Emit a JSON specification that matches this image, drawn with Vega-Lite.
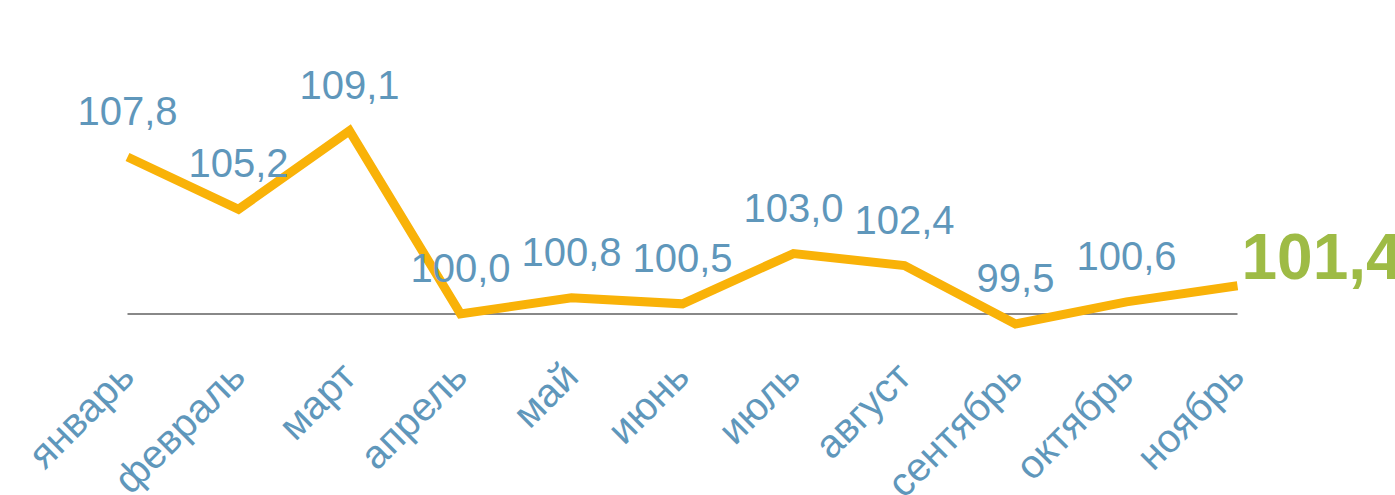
{
  "$schema": "https://vega.github.io/schema/vega-lite/v6.json",
  "width": 1221,
  "height": 330,
  "autosize": "none",
  "padding": {"left": 72, "top": 0, "right": 102, "bottom": 165},
  "background": "white",
  "config": {"view": {"stroke": null}, "font": "Liberation Sans"},
  "data": {"values": [
    {"month": "январь", "value": 107.8, "label": "107,8", "last": false},
    {"month": "февраль", "value": 105.2, "label": "105,2", "last": false},
    {"month": "март", "value": 109.1, "label": "109,1", "last": false},
    {"month": "апрель", "value": 100.0, "label": "100,0", "last": false},
    {"month": "май", "value": 100.8, "label": "100,8", "last": false},
    {"month": "июнь", "value": 100.5, "label": "100,5", "last": false},
    {"month": "июль", "value": 103.0, "label": "103,0", "last": false},
    {"month": "август", "value": 102.4, "label": "102,4", "last": false},
    {"month": "сентябрь", "value": 99.5, "label": "99,5", "last": false},
    {"month": "октябрь", "value": 100.6, "label": "100,6", "last": false},
    {"month": "ноябрь", "value": 101.4, "label": "101,4", "last": true}
  ]},
  "encoding": {
    "x": {
      "field": "month", "type": "ordinal",
      "scale": {"type": "point", "padding": 0.5, "domain": ["январь", "февраль", "март", "апрель", "май", "июнь", "июль", "август", "сентябрь", "октябрь", "ноябрь"]},
      "axis": {
        "title": null, "domain": false, "ticks": false, "grid": false,
        "labelAngle": -45, "labelAlign": "right", "labelBaseline": "middle",
        "labelPadding": 40, "labelFontSize": 40, "labelColor": "#5f97bb",
        "labelFont": "Liberation Sans", "labelOverlap": false
      }
    },
    "y": {
      "field": "value", "type": "quantitative",
      "scale": {"domain": [99.2, 115.6], "nice": false, "zero": false},
      "axis": null
    }
  },
  "layer": [
    {
      "data": {"values": [{"start": "январь", "end": "ноябрь", "base": 100}]},
      "mark": {"type": "rule", "color": "#888888", "strokeWidth": 2},
      "encoding": {
        "x": {"field": "start", "type": "ordinal", "scale": {"type": "point", "padding": 0.5, "domain": ["январь", "февраль", "март", "апрель", "май", "июнь", "июль", "август", "сентябрь", "октябрь", "ноябрь"]}},
        "x2": {"field": "end"},
        "y": {"field": "base", "type": "quantitative"}
      }
    },
    {
      "mark": {"type": "line", "color": "#f9b208", "strokeWidth": 9}
    },
    {
      "transform": [{"filter": "!datum.last"}],
      "mark": {"type": "text", "fontSize": 40, "color": "#5f97bb", "dy": -44, "baseline": "middle", "font": "Liberation Sans"},
      "encoding": {"text": {"field": "label"}}
    },
    {
      "transform": [{"filter": "datum.last"}],
      "mark": {"type": "text", "fontSize": 64, "fontWeight": "bold", "color": "#9ebb45", "dy": -26, "dx": 4, "align": "left", "baseline": "middle", "font": "Liberation Sans"},
      "encoding": {"text": {"field": "label"}}
    }
  ]
}
